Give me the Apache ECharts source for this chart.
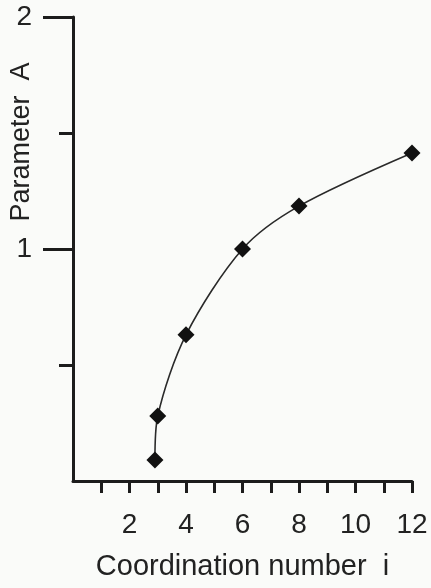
<!DOCTYPE html>
<html>
<head>
<meta charset="utf-8">
<script src="https://cdn.jsdelivr.net/npm/echarts@6/dist/echarts.min.js"></script>
<style>
html,body{margin:0;padding:0;background:#fafbf9;}
#c{width:431px;height:588px;}
</style>
</head>
<body>
<div id="c"></div>
<script>
// Data
const coordNumbers = [2.9, 3, 4, 6, 8, 12];
const paramA = [0.09, 0.28, 0.63, 1.0, 1.185, 1.414];
const xTickValues = [1, 2, 3, 4, 5, 6, 7, 8, 9, 10, 11, 12];
const xLabelValues = [2, 4, 6, 8, 10, 12];
const yMajorTicks = [1, 2];
const yMinorTicks = [0.5, 1.5];

const ink = '#1c1c1c';
const font = 'Liberation Sans, Arial, sans-serif';

const chart = echarts.init(document.getElementById('c'), null, {renderer: 'canvas'});
chart.setOption({
  backgroundColor: '#fafbf9',
  animation: false,
  grid: {left: 73, right: 19, top: 17, bottom: 107, containLabel: false, outerBoundsMode: 'none'},
  xAxis: {
    type: 'value', min: 0, max: 12, interval: 1,
    name: 'Coordination number  i', nameLocation: 'middle', nameGap: 71,
    nameTextStyle: {fontFamily: font, fontSize: 29, color: '#222'},
    axisLine: {show: true, lineStyle: {color: ink, width: 3}},
    axisTick: {show: true, length: 12, lineStyle: {color: ink, width: 3}, customValues: xTickValues},
    axisLabel: {fontFamily: font, fontSize: 28, color: '#222', margin: 30, customValues: xLabelValues},
    splitLine: {show: false}
  },
  yAxis: [{
    type: 'value', min: 0, max: 2, interval: 0.5,
    name: 'Parameter  A', nameLocation: 'middle', nameGap: 38, nameRotate: 90,
    nameMoveOverlap: false,
    nameTextStyle: {fontFamily: font, fontSize: 27, color: '#222', padding: [0, 0, 0, 214]},
    axisLine: {show: true, lineStyle: {color: ink, width: 3}},
    axisTick: {show: true, length: 30, lineStyle: {color: ink, width: 3}, customValues: yMajorTicks},
    axisLabel: {fontFamily: font, fontSize: 28, color: '#222', margin: 41, customValues: yMajorTicks},
    splitLine: {show: false}
  }, {
    type: 'value', min: 0, max: 2, interval: 0.5, position: 'left', offset: 0,
    axisLine: {show: false},
    axisTick: {show: true, length: 14, lineStyle: {color: ink, width: 3}, customValues: yMinorTicks},
    axisLabel: {show: false},
    splitLine: {show: false}
  }],
  series: [{
    type: 'line',
    yAxisIndex: 0,
    data: coordNumbers.map((x, i) => [x, paramA[i]]),
    smooth: 0.3,
    symbol: 'diamond',
    symbolSize: 17,
    itemStyle: {color: '#111'},
    lineStyle: {color: '#2a2a2a', width: 1.6}
  }]
});
</script>
</body>
</html>
